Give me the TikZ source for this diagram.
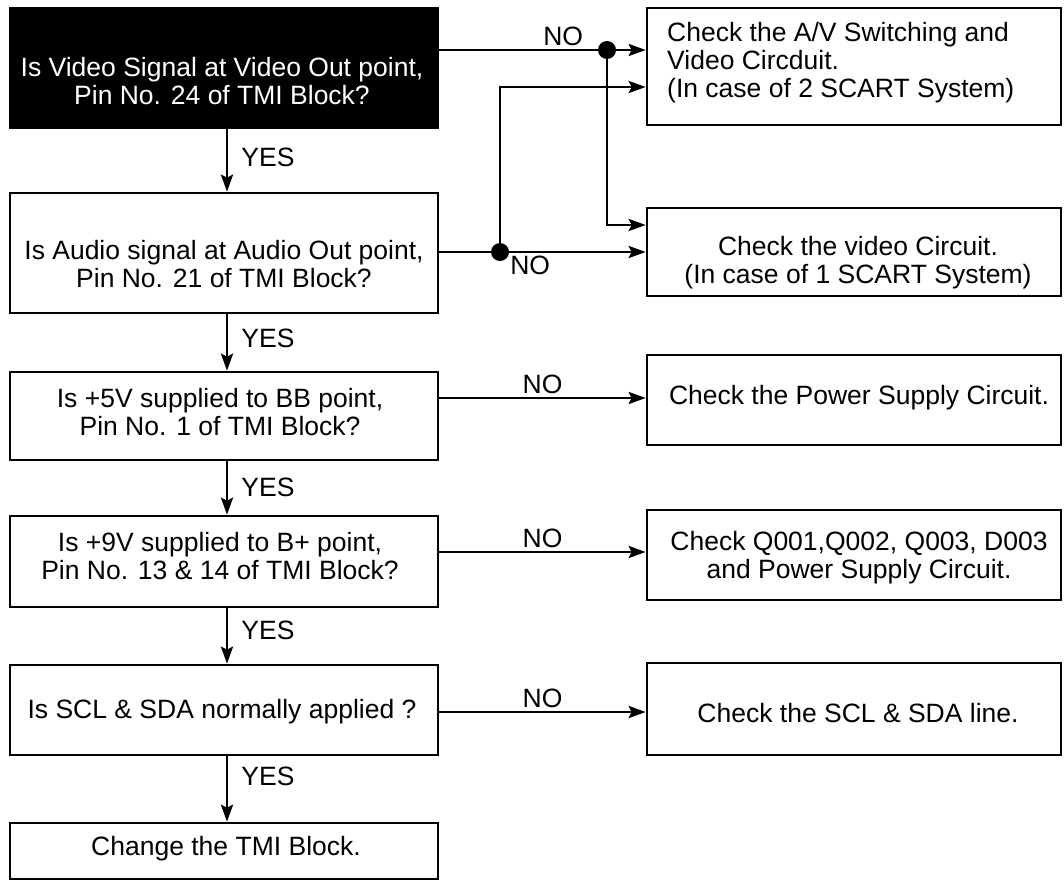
\documentclass[tikz,border=0pt]{standalone}
\usepackage{fontspec}
\setmainfont{Liberation Sans}
\usetikzlibrary{arrows.meta}
\begin{document}
\begin{tikzpicture}[x=1pt,y=-1pt,
  box/.style={draw, line width=2.6pt, rectangle, inner sep=0pt},
  lbox/.style={box, minimum width=428pt},
  rbox/.style={box, minimum width=414pt},
  txt/.style={align=center, inner sep=0pt, font=\fontsize{26.5}{28}\selectfont},
  arr/.style={line width=2.8pt, -{Stealth[length=17pt,width=12pt,inset=3pt]}},
  jdot/.style={circle, fill=black, inner sep=0pt, minimum size=18pt},
  lab/.style={font=\fontsize{26.5}{29}\selectfont, inner sep=3pt}]
\useasboundingbox (0,0) rectangle (1064,880);

% left column
\node[lbox, fill=black, minimum height=120pt] (q1) at (224,68) {};
\node[txt, text=white] (q1t) at (222,81) {Is Video Signal at Video Out point,\\Pin No. 24 of TMI Block?};
\node[lbox, minimum height=120pt] (q2) at (224,253) {};
\node[txt] (q2t) at (224,264) {Is Audio signal at Audio Out point,\\Pin No. 21 of TMI Block?};
\node[lbox, minimum height=88pt] (q3) at (224,416) {};
\node[txt] (q3t) at (220,412) {Is +5V supplied to BB point,\\Pin No. 1 of TMI Block?};
\node[lbox, minimum height=91pt] (q4) at (224,561.5) {};
\node[txt] (q4t) at (220,556) {Is +9V supplied to B+ point,\\Pin No. 13 \& 14 of TMI Block?};
\node[lbox, minimum height=90pt] (q5) at (224,710) {};
\node[txt] (q5t) at (222,712) {Is SCL \& SDA normally applied ?};
\node[lbox, minimum height=56pt] (q6) at (224,851) {};
\node[txt] (q6t) at (226,849) {Change the TMI Block.};

% right column
\node[rbox, minimum height=117pt] (r1) at (854,66.5) {};
\node[txt, align=left, anchor=west] (r1t) at (667,63) {Check the A/V Switching and\\Video Circduit.\\(In case of 2 SCART System)};
\node[rbox, minimum height=88pt] (r2) at (854,252) {};
\node[txt] (r2t) at (858,263) {Check the video Circuit.\\(In case of 1 SCART System)};
\node[rbox, minimum height=90pt] (r3) at (854,400) {};
\node[txt] (r3t) at (859,398) {Check the Power Supply Circuit.};
\node[rbox, minimum height=90pt] (r4) at (854,555) {};
\node[txt] (r4t) at (859,558) {Check Q001,Q002, Q003, D003\\and Power Supply Circuit.};
\node[rbox, minimum height=92pt] (r5) at (854,709) {};
\node[txt] (r5t) at (858,713) {Check the SCL \& SDA line.};

% junctions
\coordinate (j1) at (607,50);
\coordinate (j2) at (500,252);
\coordinate (y87) at (0,87);
\coordinate (y225) at (0,225);

% NO branches
\draw[arr] (q1.east |- j1) -- node[lab, pos=0.6, above] (no1) {NO} (r1.west |- j1);
\draw[arr] (j1) |- (r2.west |- y225);
\draw[arr] (q2.east |- j2) -- node[lab, pos=0.44, below] (no2) {NO} (r2.west |- j2);
\draw[arr] (j2) |- (r1.west |- y87);
\node[jdot] (d1) at (j1) {};
\node[jdot] (d2) at (j2) {};
\draw[arr] (q3.east |- 0,398) -- node[lab, above] (no3) {NO} (r3.west |- 0,398);
\draw[arr] (q4.east |- 0,552) -- node[lab, above] (no4) {NO} (r4.west |- 0,552);
\draw[arr] (q5.east |- 0,712) -- node[lab, above] (no5) {NO} (r5.west |- 0,712);

% YES chain
\draw[arr] (q1.south -| 227,0) -- node[lab, right, pos=0.45, xshift=10pt] (yes1) {YES} (q2.north -| 227,0);
\draw[arr] (q2.south -| 227,0) -- node[lab, right, pos=0.42, xshift=10pt] (yes2) {YES} (q3.north -| 227,0);
\draw[arr] (q3.south -| 227,0) -- node[lab, right, pos=0.48, xshift=10pt] (yes3) {YES} (q4.north -| 227,0);
\draw[arr] (q4.south -| 227,0) -- node[lab, right, pos=0.4, xshift=10pt] (yes4) {YES} (q5.north -| 227,0);
\draw[arr] (q5.south -| 227,0) -- node[lab, right, pos=0.3, xshift=10pt] (yes5) {YES} (q6.north -| 227,0);
\end{tikzpicture}
\end{document}
